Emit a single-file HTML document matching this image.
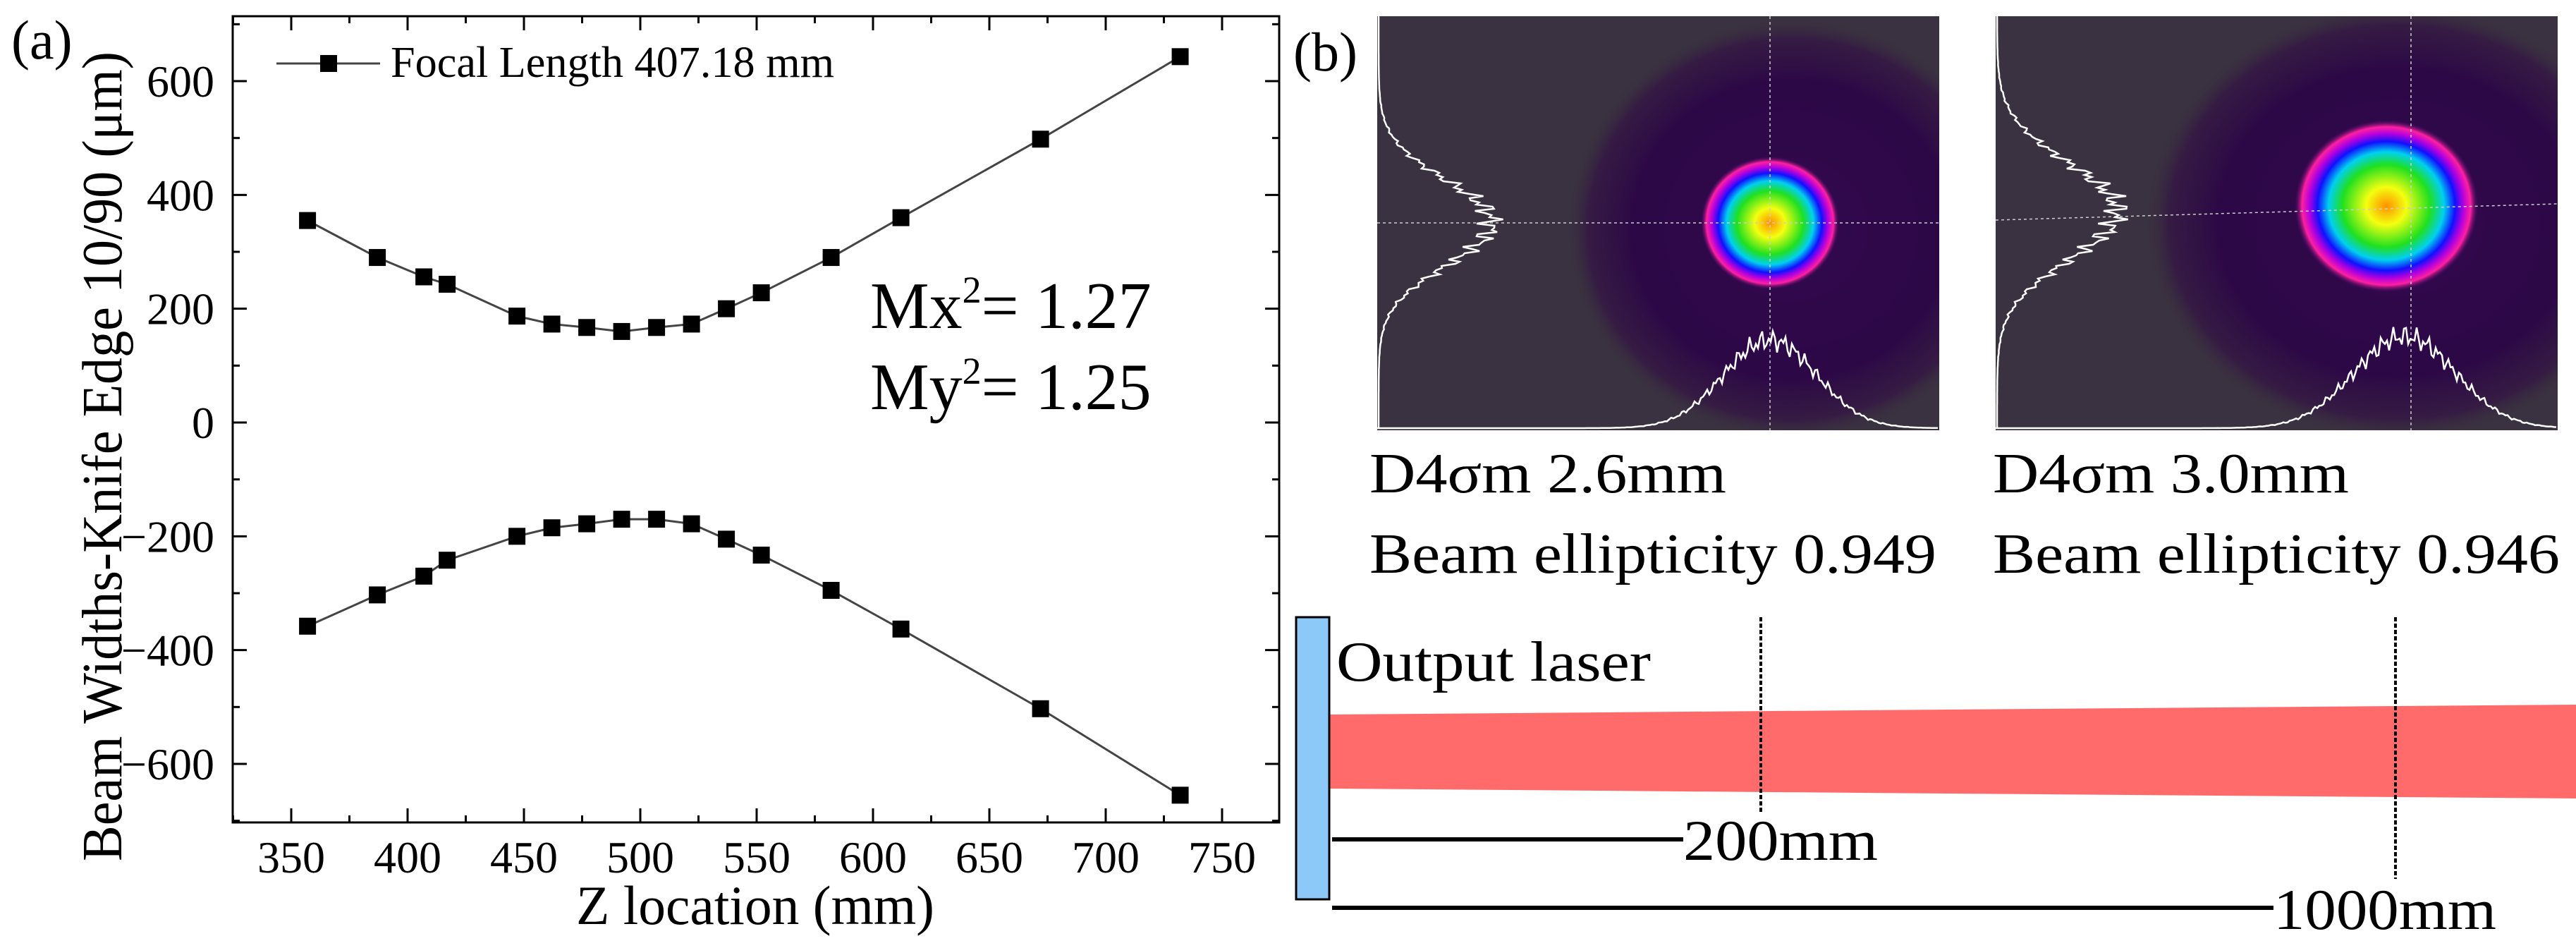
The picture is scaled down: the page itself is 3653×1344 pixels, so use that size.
<!DOCTYPE html>
<html><head><meta charset="utf-8"><style>
html,body{margin:0;padding:0;background:#fff;}
svg{display:block;font-family:"Liberation Serif",serif;}
</style></head><body>
<svg id="fig" width="3653" height="1344" viewBox="0 0 3653 1344">
<defs>
<radialGradient id="halo" cx="0.5" cy="0.5" r="0.5">
<stop offset="0" stop-color="#33084f"/><stop offset="0.7" stop-color="#2c0846"/><stop offset="0.9" stop-color="#320c45" stop-opacity="0.6"/><stop offset="1" stop-color="#3a3240" stop-opacity="0"/></radialGradient>
<radialGradient id="spot" cx="0.5" cy="0.5" r="0.5">
<stop offset="0" stop-color="#ff9000"/><stop offset="0.22" stop-color="#f4ff10"/><stop offset="0.48" stop-color="#20e020"/><stop offset="0.63" stop-color="#00d0f0"/><stop offset="0.75" stop-color="#1010ff"/><stop offset="0.84" stop-color="#b000e0"/><stop offset="0.92" stop-color="#ff20a0"/><stop offset="1" stop-color="#5a0a70" stop-opacity="0"/></radialGradient>
</defs>
<g id="panelA"></g>
<g id="panelB"></g>
</svg>
<script>
const zLoc = [357,387,407,417,447,462,477,492,507,522,537,552,582,612,672,732];
const widthX = [355,290,256,243,187,173,167,160,167,173,200,228,290,360,498,643];
const widthY = [-358,-303,-270,-242,-200,-185,-178,-170,-170,-178,-205,-233,-295,-363,-503,-655];
const xTicks = [350,400,450,500,550,600,650,700,750];
const yTicks = [-600,-400,-200,0,200,400,600];

const NS="http://www.w3.org/2000/svg";
function mk(parent,tag,attrs,text){const e=document.createElementNS(NS,tag);for(const k in attrs)e.setAttribute(k,attrs[k]);if(text!==undefined)e.textContent=text;parent.appendChild(e);return e;}
const A=document.getElementById('panelA');
const L=330,R=1814,T=23,B=1166;
const xs=v=>413+(v-350)*165/50;
const ys=v=>599-v*(1083-115)/1200;
let fr=mk(A,'rect',{x:L,y:T,width:R-L,height:B-T,fill:'none',stroke:'#000','stroke-width':3});


for(let v=325;v<=775;v+=25){const x=xs(v);if(x<=L||x>=R)continue;const maj=v%50==0;const len=maj?20:10;
 mk(A,'line',{x1:x,y1:B,x2:x,y2:B-len,stroke:'#000','stroke-width':3});
 mk(A,'line',{x1:x,y1:T,x2:x,y2:T+len,stroke:'#000','stroke-width':3});}
for(let v=-700;v<=700;v+=100){const y=ys(v);if(y<=T||y>=B)continue;const maj=v%200==0;const len=maj?20:10;
 mk(A,'line',{x1:L,y1:y,x2:L+len,y2:y,stroke:'#000','stroke-width':3});
 mk(A,'line',{x1:R,y1:y,x2:R-len,y2:y,stroke:'#000','stroke-width':3});}
xTicks.forEach(v=>{const t=mk(A,'text',{x:xs(v),y:1237,'font-size':64,'text-anchor':'middle'},String(v));
 
 });
yTicks.forEach(v=>{const t=mk(A,'text',{x:304,y:ys(v)+22,'font-size':64,'text-anchor':'end'},v<0?'\u2212'+(-v):String(v));
 
 });
let xt=mk(A,'text',{x:817,y:1310,'font-size':78,textLength:508,lengthAdjust:'spacingAndGlyphs'},'Z location (mm)');


let yt=mk(A,'text',{x:0,y:0,'font-size':80,'text-anchor':'middle',textLength:1148,lengthAdjust:'spacingAndGlyphs',transform:'translate(172,647) rotate(-90)'},'Beam Widths-Knife Edge 10/90 (\u03bcm)');


let la=mk(A,'text',{x:16,y:83,'font-size':78},'(a)');


[widthX,widthY].forEach((s,si)=>{
 const p=mk(A,'polyline',{points:zLoc.map((z,i)=>xs(z)+','+ys(s[i])).join(' '),fill:'none',stroke:'#444','stroke-width':3});
 
 
 zLoc.forEach((z,i)=>{const r=mk(A,'rect',{x:xs(z)-12,y:ys(s[i])-12,width:24,height:24,fill:'#000'});
  
  });
});
let lg=mk(A,'g',{});


mk(lg,'line',{x1:392,y1:90,x2:539,y2:90,stroke:'#444','stroke-width':3});
mk(lg,'rect',{x:454,y:78,width:24,height:24,fill:'#000'});
mk(lg,'text',{x:554,y:109,'font-size':62,textLength:629,lengthAdjust:'spacingAndGlyphs'},'Focal Length 407.18 mm');
let m1=mk(A,'text',{x:1234,y:465,'font-size':94});


m1.innerHTML='Mx<tspan dy="-36" font-size="54">2</tspan><tspan dy="36">= 1.27</tspan>';
let m2=mk(A,'text',{x:1234,y:580,'font-size':94});


m2.innerHTML='My<tspan dy="-36" font-size="54">2</tspan><tspan dy="36">= 1.25</tspan>';

// Panel B
const Bp=document.getElementById('panelB');
let lb=mk(Bp,'text',{x:1834,y:100,'font-size':78},'(b)');


function gaussPath(cx,amp,sig,horiz,base,lo,hi){let d='';for(let t=lo;t<=hi;t+=3){const g=amp*Math.exp(-((t-cx)**2)/(2*sig*sig));const n=(Math.sin(t*1.7)+Math.sin(t*0.73))*g*0.07;
 const px=horiz?t:base+g+n, py=horiz?base-g-n:t; d+=(d?'L':'M')+px.toFixed(1)+','+py.toFixed(1);}return d;}
const imgs=[
 {x:1953,y:23,w:797,h:587,sx:2510,sy:316,rx:98,ry:94,hx:2540,hy:325,hrx:320,hry:300,lp:[316,160,60],bp:[2510,125,66],vx:2510,hy1:316,hy2:316},
 {x:2830,y:23,w:797,h:587,sx:3384,sy:292,rx:130,ry:122,hx:3400,hy:315,hrx:360,hry:310,lp:[300,170,68],bp:[3410,130,72],vx:3419,hy1:312,hy2:289}
];
imgs.forEach((m,i)=>{
 const g=mk(Bp,'g',{});
 
 
 const cp=mk(g,'clipPath',{id:'c'+i});
 mk(cp,'rect',{x:m.x,y:m.y,width:m.w,height:m.h});
 const cg=mk(g,'g',{'clip-path':'url(#c'+i+')'});
 mk(cg,'rect',{x:m.x,y:m.y,width:m.w,height:m.h,fill:'#3a3240'});
 mk(cg,'ellipse',{cx:m.hx,cy:m.hy,rx:m.hrx,ry:m.hry,fill:'url(#halo)'});
 mk(cg,'ellipse',{cx:m.sx,cy:m.sy,rx:m.rx,ry:m.ry,fill:'url(#spot)'});
 mk(cg,'line',{x1:m.vx,y1:m.y,x2:m.vx,y2:m.y+m.h,stroke:'#ccc','stroke-width':1.5,'stroke-dasharray':'4 4'});
 mk(cg,'line',{x1:m.x,y1:m.hy1,x2:m.x+m.w,y2:m.hy2,stroke:'#ccc','stroke-width':1.5,'stroke-dasharray':'4 4'});
 mk(cg,'path',{d:gaussPath(m.lp[0],m.lp[1],m.lp[2],false,m.x+2,m.y,m.y+m.h),fill:'none',stroke:'#fff','stroke-width':2.5});
 mk(cg,'path',{d:gaussPath(m.bp[0],m.bp[1],m.bp[2],true,m.y+m.h-3,m.x,m.x+m.w),fill:'none',stroke:'#fff','stroke-width':2.5});
});
const texts=[['D4\u03c3m 2.6mm',1942,698,506,'beam-diameter-1'],['Beam ellipticity 0.949',1942,812,804,'ellipticity-1'],['D4\u03c3m 3.0mm',2826,698,505,'beam-diameter-2'],['Beam ellipticity 0.946',2826,812,804,'ellipticity-2']];
texts.forEach(t=>{const e=mk(Bp,'text',{x:t[1],y:t[2],'font-size':80,textLength:t[3],lengthAdjust:'spacingAndGlyphs'},t[0]);
 
 });
let beam=mk(Bp,'polygon',{points:'1885,1013 3653,999 3653,1132 1885,1118',fill:'#ff6b6b'});


let out=mk(Bp,'rect',{x:1838,y:875,width:47,height:400,fill:'#8cc8f8',stroke:'#000','stroke-width':3});


[[2497,1153,'marker-200mm'],[3397,1246,'marker-1000mm']].forEach(d=>{const l=mk(Bp,'line',{x1:d[0],y1:875,x2:d[0],y2:d[1],stroke:'#000','stroke-width':4,'stroke-dasharray':'6 3'});
 
 });
let ol=mk(Bp,'text',{x:1895,y:965,'font-size':80,textLength:446,lengthAdjust:'spacingAndGlyphs'},'Output laser');


[[1190,2387,1219,276,'200mm','distance-200mm'],[1287,3224,1317,316,'1000mm','distance-1000mm']].forEach(d=>{
 const g=mk(Bp,'g',{});
 
 
 mk(g,'line',{x1:1889,y1:d[0],x2:d[1],y2:d[0],stroke:'#000','stroke-width':6});
 mk(g,'text',{x:d[1],y:d[2],'font-size':82,textLength:d[3],lengthAdjust:'spacingAndGlyphs'},d[4]);});
</script>
</body></html>
